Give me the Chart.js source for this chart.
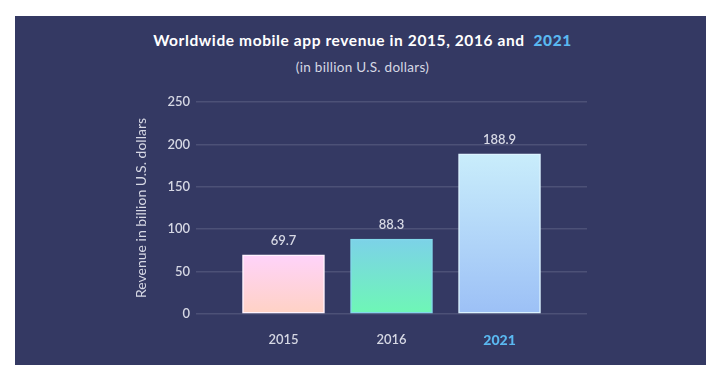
<!DOCTYPE html>
<html>
<head>
<meta charset="utf-8">
<script src="https://cdn.jsdelivr.net/npm/chart.js@4"></script>
<style>
  html, body { margin: 0; padding: 0; background: #ffffff; }
  body { width: 725px; height: 365px; position: relative; overflow: hidden; }
  #panel { position: absolute; left: 15px; top: 16px; width: 691px; height: 349px; background: #343963; }
  #title { position: absolute; left: 0; width: 725px; top: 31px; text-align: center; font-family: Lato, sans-serif; font-weight: 700; font-size: 15.5px; color: #ffffff; white-space: pre; letter-spacing: 0.6px; }
  #title span { color: #5ab8f0; font-weight: 900; }
  #subtitle { position: absolute; left: 0; width: 725px; top: 59px; text-align: center; font-family: Lato, sans-serif; font-size: 13.5px; color: #d6d8e4; letter-spacing: 0.3px; }
  #wrap { position: absolute; left: 0; top: 0; width: 725px; height: 365px; }
</style>
</head>
<body>
<div id="panel"></div>
<div id="title">Worldwide mobile app revenue in 2015, 2016 and  <span>2021</span></div>
<div id="subtitle">(in billion U.S. dollars)</div>
<div id="wrap"><canvas id="c" width="725" height="365"></canvas></div>
<script>
const categories = ['2015', '2016', '2021'];
const revenue = [69.7, 88.3, 188.9];
const yTicks = [0, 50, 100, 150, 200, 250];
const yAxisTitle = 'Revenue in billion U.S. dollars';

const gradStops = [
  ['#ffd3fa', '#ffd2c4'],
  ['#7cd2e8', '#6ef7b5'],
  ['#c9edfb', '#9cc0f6']
];
const borderCols = ['#fff2fd', '#82d8ea', '#dbf3ff'];

function barGradient(ctx) {
  const chart = ctx.chart;
  const area = chart.chartArea;
  const i = ctx.dataIndex;
  if (!area || !chart.scales.y) return gradStops[i][0];
  const top = chart.scales.y.getPixelForValue(revenue[i]);
  const g = chart.ctx.createLinearGradient(0, top, 0, area.bottom);
  g.addColorStop(0, gradStops[i][0]);
  g.addColorStop(1, gradStops[i][1]);
  return g;
}

const valueLabels = {
  id: 'valueLabels',
  afterDatasetsDraw(chart) {
    const ctx = chart.ctx;
    const meta = chart.getDatasetMeta(0);
    ctx.save();
    ctx.font = '600 13px Lato, sans-serif';
    ctx.fillStyle = '#d6d8e4';
    ctx.textAlign = 'center';
    ctx.textBaseline = 'middle';
    meta.data.forEach((bar, i) => {
      ctx.fillText(String(revenue[i]), bar.x, bar.y - 14);
    });
    ctx.restore();
  }
};

new Chart(document.getElementById('c'), {
  type: 'bar',
  data: {
    datasets: [{
      data: revenue.map((v, i) => ({ x: i, y: v })),
      backgroundColor: barGradient,
      borderColor: borderCols,
      borderWidth: 1.5,
      borderSkipped: false,
      barThickness: 82
    }]
  },
  options: {
    responsive: false,
    animation: false,
    events: [],
    layout: { padding: { left: 133, right: 138, top: 102, bottom: 0 } },
    plugins: { legend: { display: false }, tooltip: { enabled: false }, title: { display: false } },
    scales: {
      x: {
        type: 'linear',
        offset: false,
        min: -0.81,
        max: 2.81,
        grid: { display: false, drawTicks: false },
        border: { display: false },
        afterFit(scale) { scale.height = 51; },
        afterBuildTicks(scale) { scale.ticks = categories.map((_, i) => ({ value: i })); },
        ticks: {
          autoSkip: false,
          maxRotation: 0,
          padding: 18,
          color: (c) => c.tick && c.tick.value === 2 ? '#5ab8f0' : '#d6d8e4',
          font: (c) => c.tick && c.tick.value === 2
            ? { family: 'Lato, sans-serif', size: 14, weight: '900' }
            : { family: 'Lato, sans-serif', size: 13, weight: '600' },
          callback: (v) => categories[v]
        }
      },
      y: {
        min: 0,
        max: 250,
        afterFit(scale) { scale.width = 63; },
        afterBuildTicks(scale) { scale.ticks = yTicks.map(v => ({ value: v })); },
        grid: { color: '#4c5177', lineWidth: 1.5, drawTicks: false },
        border: { display: false },
        ticks: {
          padding: 6,
          color: '#d6d8e4',
          font: { family: 'Lato, sans-serif', size: 13, weight: '600' }
        },
        title: {
          display: true,
          text: yAxisTitle,
          color: '#d6d8e4',
          font: { family: 'Lato, sans-serif', size: 14 },
          padding: { top: 0, bottom: 0 }
        }
      }
    }
  },
  plugins: [valueLabels]
});
</script>
</body>
</html>
